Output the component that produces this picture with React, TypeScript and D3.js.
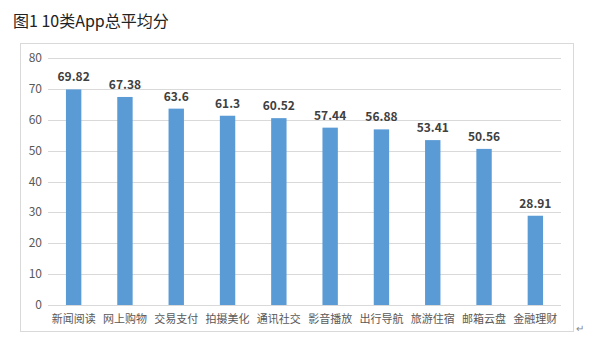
import * as d3 from "d3";
import { useEffect, useRef } from "react";

const categories = [
  "新闻阅读",
  "网上购物",
  "交易支付",
  "拍摄美化",
  "通讯社交",
  "影音播放",
  "出行导航",
  "旅游住宿",
  "邮箱云盘",
  "金融理财",
];
const scores = [69.82, 67.38, 63.6, 61.3, 60.52, 57.44, 56.88, 53.41, 50.56, 28.91];
const scoreLabels = ["69.82", "67.38", "63.6", "61.3", "60.52", "57.44", "56.88", "53.41", "50.56", "28.91"];
const yTicks = [0, 10, 20, 30, 40, 50, 60, 70, 80];

const App = () => {
  const ref = useRef<SVGSVGElement>(null);

  useEffect(() => {
    const svg = d3.select(ref.current);
    svg.selectAll("*").remove();

    const font = "'Microsoft YaHei', 'Noto Sans CJK SC', 'Noto Sans', sans-serif";
    const left = 48,
      right = 561,
      top = 58,
      bottom = 305;

    // title
    svg
      .append("text")
      .attr("x", 13)
      .attr("y", 27)
      .attr("font-family", font)
      .attr("font-size", 16)
      .attr("fill", "#222")
      .text("图1 10类App总平均分");

    // chart frame
    svg
      .append("rect")
      .attr("x", 20.5)
      .attr("y", 43.5)
      .attr("width", 553)
      .attr("height", 288)
      .attr("fill", "none")
      .attr("stroke", "#d9d9d9");

    const x = d3.scaleBand().domain(categories).range([left, right]).paddingInner(0.7).paddingOuter(0.35);
    const y = d3.scaleLinear().domain([0, 80]).range([bottom, top]);

    // grid lines
    svg
      .append("g")
      .selectAll("line")
      .data(yTicks)
      .enter()
      .append("line")
      .attr("x1", left)
      .attr("x2", right)
      .attr("y1", (d) => Math.round(y(d)) + 0.5)
      .attr("y2", (d) => Math.round(y(d)) + 0.5)
      .attr("stroke", "#d9d9d9")
      .attr("stroke-width", 1);

    // y tick labels
    svg
      .append("g")
      .selectAll("text")
      .data(yTicks)
      .enter()
      .append("text")
      .attr("x", 42)
      .attr("y", (d) => y(d) + 4)
      .attr("text-anchor", "end")
      .attr("font-family", font)
      .attr("font-size", 12)
      .attr("fill", "#595959")
      .text((d) => d);

    // bars
    svg
      .append("g")
      .selectAll("rect")
      .data(scores)
      .enter()
      .append("rect")
      .attr("x", (_, i) => x(categories[i])!)
      .attr("y", (d) => y(d))
      .attr("width", x.bandwidth())
      .attr("height", (d) => bottom - y(d))
      .attr("fill", "#5b9bd5");

    // value labels
    svg
      .append("g")
      .selectAll("text")
      .data(scores)
      .enter()
      .append("text")
      .attr("x", (_, i) => x(categories[i])! + x.bandwidth() / 2)
      .attr("y", (d) => y(d) - 8)
      .attr("text-anchor", "middle")
      .attr("font-family", font)
      .attr("font-size", 12)
      .attr("font-weight", "bold")
      .attr("fill", "#404040")
      .text((_, i) => scoreLabels[i]);

    // category labels
    svg
      .append("g")
      .selectAll("text")
      .data(categories)
      .enter()
      .append("text")
      .attr("x", (d) => x(d)! + x.bandwidth() / 2)
      .attr("y", 323)
      .attr("text-anchor", "middle")
      .attr("font-family", font)
      .attr("font-size", 11)
      .attr("fill", "#595959")
      .text((d) => d);

    // little return mark at corner
    svg
      .append("text")
      .attr("x", 576)
      .attr("y", 332)
      .attr("font-family", font)
      .attr("font-size", 10)
      .attr("fill", "#888")
      .text("↵");
  }, []);

  return (
    <svg
      ref={ref}
      width={600}
      height={353}
      style={{ position: "absolute", left: 0, top: 0, background: "#fff" }}
    />
  );
};

export default App;
